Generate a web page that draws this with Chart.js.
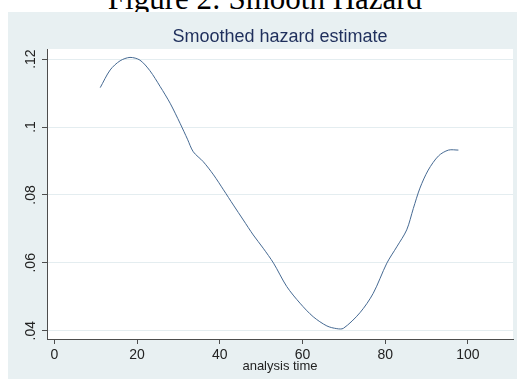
<!DOCTYPE html>
<html>
<head>
<meta charset="utf-8">
<title>Smoothed hazard estimate</title>
<script src="https://cdn.jsdelivr.net/npm/chart.js@4.4.1/dist/chart.umd.min.js"></script>
<style>
  html, body {
    margin: 0;
    padding: 0;
    background: #ffffff;
    overflow: hidden;
    width: 517px;
    height: 381px;
  }
  #figure-title {
    position: absolute;
    left: 265px;
    top: -17.5px;
    transform: translateX(-50%);
    white-space: nowrap;
    font-family: "Liberation Serif", "Times New Roman", serif;
    font-size: 31px;
    line-height: 31px;
    color: #000000;
  }
  #panel {
    position: absolute;
    left: 8px;
    top: 12px;
    width: 509px;
    height: 367px;
    background: #e8f0f2;
  }
  #hazard-chart {
    display: block;
  }
</style>
</head>
<body>
<div id="figure-title">Figure 2: Smooth Hazard</div>
<div id="panel">
  <canvas id="hazard-chart" width="509" height="367"></canvas>
</div>
<script>
// values
const analysisTime = [
  11.1, 13.5, 15.9, 18.3, 20.7, 23.1, 25.6, 28.0, 30.4, 32.2,
  33.6, 36.0, 38.5, 40.9, 43.3, 45.7, 48.1, 50.5, 53.0, 56.2,
  59.4, 62.6, 65.9, 68.3, 69.9, 73.9, 77.1, 80.4, 82.8, 85.2,
  86.8, 88.4, 90.4, 92.9, 95.3, 97.7,
];
const hazard = [
  0.1116, 0.1168, 0.1195, 0.1205, 0.1197, 0.1166, 0.1119, 0.1070, 0.1011, 0.0964,
  0.0927, 0.0898, 0.0859, 0.0815, 0.0770, 0.0726, 0.0682, 0.0643, 0.0599, 0.0530,
  0.0481, 0.0441, 0.0414, 0.0406, 0.0407, 0.0453, 0.0510, 0.0599, 0.0647, 0.0697,
  0.0760, 0.0820, 0.0873, 0.0915, 0.0932, 0.0932,
];
const xTicks = [0, 20, 40, 60, 80, 100];
const yTicks = [0.04, 0.06, 0.08, 0.1, 0.12];
const yTickLabels = [".04", ".06", ".08", ".1", ".12"];

const chartTitle = "Smoothed hazard estimate";
const xTitle = "analysis time";

const fontFamily = "'Liberation Sans', Arial, sans-serif";
const axisColor = "#4d4d4d";
const labelColor = "#222222";

Chart.defaults.font.family = fontFamily;

// white plot region
const plotBackground = {
  id: "plotBackground",
  beforeDraw(chart) {
    const { ctx, chartArea } = chart;
    ctx.save();
    ctx.fillStyle = "#ffffff";
    ctx.fillRect(chartArea.left, chartArea.top, chartArea.right - chartArea.left, chartArea.bottom - chartArea.top);
    ctx.restore();
  },
};

// title and vertical y labels, Stata style
const stataText = {
  id: "stataText",
  afterDraw(chart) {
    const { ctx, chartArea } = chart;
    const yScale = chart.scales.y;
    ctx.save();
    ctx.fillStyle = "#1f2f5c";
    ctx.font = `18px ${fontFamily}`;
    ctx.textAlign = "center";
    ctx.textBaseline = "alphabetic";
    ctx.fillText(chartTitle, (chartArea.left + chartArea.right) / 2, 30.3);

    ctx.fillStyle = labelColor;
    ctx.font = `14px ${fontFamily}`;
    yScale.ticks.forEach((tick, i) => {
      const y = yScale.getPixelForValue(tick.value);
      ctx.save();
      ctx.translate(chartArea.left - 12, y);
      ctx.rotate(-Math.PI / 2);
      ctx.fillText(yTickLabels[i], 0, 0);
      ctx.restore();
    });
    ctx.restore();
  },
};

new Chart(document.getElementById("hazard-chart"), {
  type: "line",
  data: {
    datasets: [
      {
        label: "hazard",
        data: analysisTime.map((t, i) => ({ x: t, y: hazard[i] })),
        borderColor: "#466a93",
        borderWidth: 1,
        pointRadius: 0,
        tension: 0.3,
        fill: false,
      },
    ],
  },
  options: {
    responsive: false,
    animation: false,
    events: [],
    layout: {
      padding: { top: 37, right: 4, bottom: 0, left: 0 },
    },
    plugins: {
      legend: { display: false },
      tooltip: { enabled: false },
      title: { display: false },
    },
    scales: {
      x: {
        type: "linear",
        min: -1.77,
        max: 110.9,
        afterBuildTicks(scale) {
          scale.ticks = xTicks.map((v) => ({ value: v }));
        },
        afterFit(scale) {
          scale.height = 40;
        },
        ticks: {
          color: labelColor,
          font: { size: 14 },
          padding: 3,
          maxRotation: 0,
          callback: (value) => String(value),
        },
        grid: {
          display: true,
          drawOnChartArea: false,
          drawTicks: true,
          tickLength: 5,
          color: axisColor,
          tickColor: axisColor,
        },
        border: { display: true, color: axisColor, width: 1 },
        title: {
          display: true,
          text: xTitle,
          color: labelColor,
          font: { size: 13 },
          padding: { top: 0, bottom: 5 },
        },
      },
      y: {
        type: "linear",
        min: 0.03755,
        max: 0.12298,
        afterBuildTicks(scale) {
          scale.ticks = yTicks.map((v) => ({ value: v }));
        },
        afterFit(scale) {
          scale.width = 39;
        },
        ticks: {
          display: false,
        },
        grid: {
          display: true,
          drawOnChartArea: true,
          drawTicks: true,
          tickLength: 5,
          color: "#e4edf0",
          tickColor: axisColor,
        },
        border: { display: true, color: axisColor, width: 1 },
      },
    },
  },
  plugins: [plotBackground, stataText],
});
</script>
</body>
</html>
